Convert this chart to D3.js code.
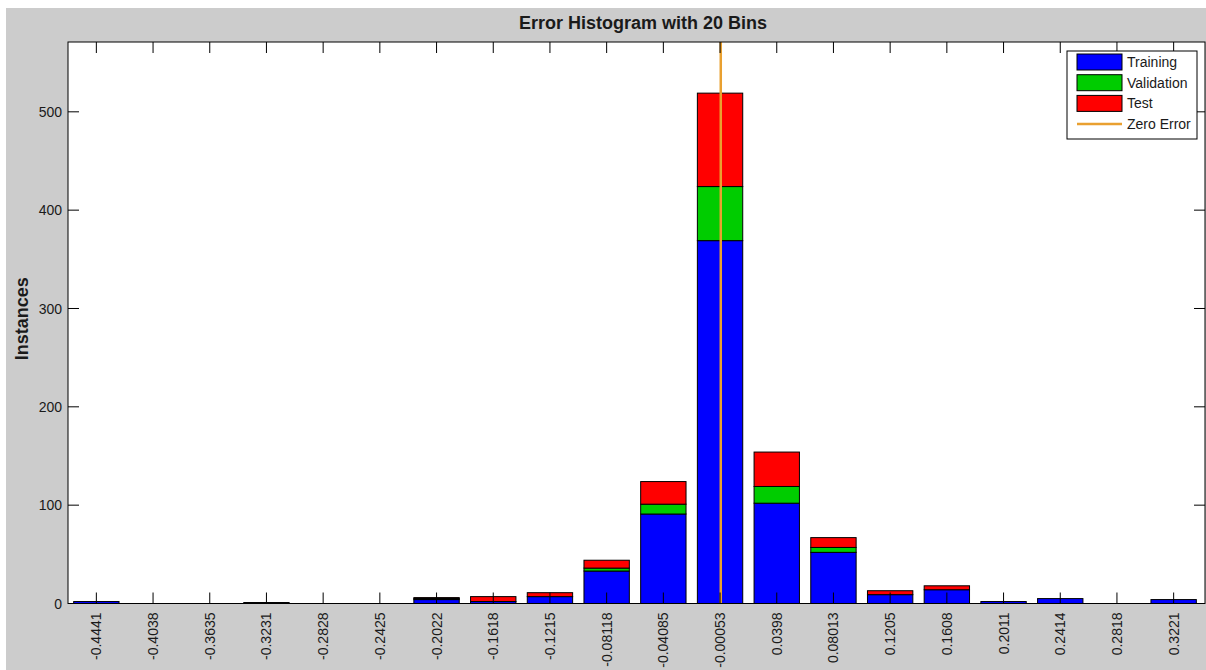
<!DOCTYPE html>
<html>
<head>
<meta charset="utf-8">
<script src="https://cdn.jsdelivr.net/npm/d3@7"></script>
<style>
  html, body { margin: 0; padding: 0; background: #ffffff; }
  svg { display: block; }
  text { font-family: "Liberation Sans", Arial, sans-serif; fill: #1a1a1a; }
</style>
</head>
<body>
<div id="chart"></div>
<script>
// bin centres, as printed under the axis
let binLabels = ["-0.4441", "-0.4038", "-0.3635", "-0.3231", "-0.2828", "-0.2425", "-0.2022",
                 "-0.1618", "-0.1215", "-0.08118", "-0.04085", "-0.00053", "0.0398", "0.08013",
                 "0.1205", "0.1608", "0.2011", "0.2414", "0.2818", "0.3221"];

let training   = [2, 0, 0, 1, 0, 0, 4, 2, 7, 33, 91, 369, 102, 52, 9, 14, 2, 5, 0, 4];
let validation = [0, 0, 0, 0, 0, 0, 1, 0, 0, 3, 10, 55, 17, 5, 0, 0, 0, 0, 0, 0];
let test       = [0, 0, 0, 0, 0, 0, 1, 5, 4, 8, 23, 95, 35, 10, 4, 4, 0, 0, 0, 0];

let yTicks = [0, 100, 200, 300, 400, 500];
let zeroError = 0;

let seriesNames = ["Training", "Validation", "Test"];
let seriesColors = ["#0000ff", "#00cc00", "#ff0000"];

let width = 1206;
let height = 670;
let plot = { left: 68, top: 42, right: 1205, bottom: 603.5 };

let svg = d3.select("#chart").append("svg")
    .attr("width", width)
    .attr("height", height);

// figure background (MATLAB grey)
svg.append("rect")
    .attr("x", 6).attr("y", 8)
    .attr("width", width - 6).attr("height", height - 8)
    .attr("fill", "#cccccc");

svg.append("rect")
    .attr("x", plot.left).attr("y", plot.top)
    .attr("width", plot.right - plot.left).attr("height", plot.bottom - plot.top)
    .attr("fill", "#ffffff");

const x = d3.scaleBand()
    .domain(binLabels)
    .range([plot.left, 1202])
    .paddingInner(0.2)
    .paddingOuter(0.1);

const y = d3.scaleLinear()
    .domain([0, 571])
    .range([plot.bottom, plot.top]);

// linear value scale through the first and last bin centres (for the zero line)
const xv = d3.scaleLinear()
    .domain([+binLabels[0], +binLabels[binLabels.length - 1]])
    .range([x(binLabels[0]) + x.bandwidth() / 2, x(binLabels[binLabels.length - 1]) + x.bandwidth() / 2]);

let rows = binLabels.map(function(b, i) {
    return { bin: b, Training: training[i], Validation: validation[i], Test: test[i] };
});

let stacked = d3.stack().keys(seriesNames)(rows);

let layers = svg.append("g")
    .selectAll("g")
    .data(stacked)
    .enter().append("g")
    .attr("fill", function(d, i) { return seriesColors[i]; });

layers.selectAll("rect")
    .data(function(d) { return d.filter(function(s) { return s[1] - s[0] > 0; }); })
    .enter().append("rect")
    .attr("x", function(d) { return x(d.data.bin); })
    .attr("width", x.bandwidth())
    .attr("y", function(d) { return y(d[1]); })
    .attr("height", function(d) { return y(d[0]) - y(d[1]); })
    .attr("stroke", "#000000")
    .attr("stroke-width", 1);

// zero error line
svg.append("line")
    .attr("x1", xv(zeroError)).attr("x2", xv(zeroError))
    .attr("y1", plot.top).attr("y2", plot.bottom)
    .attr("stroke", "#e9a030")
    .attr("stroke-width", 2.5);

// axes box and inward ticks
let axes = svg.append("g").attr("stroke", "#000000").attr("stroke-width", 1);

axes.append("rect")
    .attr("x", plot.left).attr("y", plot.top)
    .attr("width", plot.right - plot.left).attr("height", plot.bottom - plot.top)
    .attr("fill", "none");

let tickLen = 11;

axes.selectAll(".xb")
    .data(binLabels)
    .enter().append("line")
    .attr("x1", function(d) { return x(d) + x.bandwidth() / 2; })
    .attr("x2", function(d) { return x(d) + x.bandwidth() / 2; })
    .attr("y1", plot.bottom).attr("y2", plot.bottom - tickLen);

axes.selectAll(".xt")
    .data(binLabels)
    .enter().append("line")
    .attr("x1", function(d) { return x(d) + x.bandwidth() / 2; })
    .attr("x2", function(d) { return x(d) + x.bandwidth() / 2; })
    .attr("y1", plot.top).attr("y2", plot.top + tickLen);

axes.selectAll(".yl")
    .data(yTicks)
    .enter().append("line")
    .attr("x1", plot.left).attr("x2", plot.left + tickLen)
    .attr("y1", function(d) { return y(d); })
    .attr("y2", function(d) { return y(d); });

axes.selectAll(".yr")
    .data(yTicks)
    .enter().append("line")
    .attr("x1", plot.right).attr("x2", plot.right - tickLen)
    .attr("y1", function(d) { return y(d); })
    .attr("y2", function(d) { return y(d); });

// tick labels
svg.append("g")
    .selectAll("text")
    .data(yTicks)
    .enter().append("text")
    .attr("x", plot.left - 6)
    .attr("y", function(d) { return y(d); })
    .attr("dy", "0.36em")
    .attr("text-anchor", "end")
    .style("font-size", "14px")
    .text(function(d) { return d; });

svg.append("g")
    .selectAll("text")
    .data(binLabels)
    .enter().append("text")
    .attr("transform", function(d) {
        return "translate(" + (x(d) + x.bandwidth() / 2) + "," + (plot.bottom + 9) + ") rotate(-90)";
    })
    .attr("dy", "0.36em")
    .attr("text-anchor", "end")
    .style("font-size", "14px")
    .text(function(d) { return d; });

// title and y label
svg.append("text")
    .attr("x", 643).attr("y", 29)
    .attr("text-anchor", "middle")
    .style("font-size", "18px")
    .style("font-weight", "bold")
    .text("Error Histogram with 20 Bins");

svg.append("text")
    .attr("transform", "translate(28," + ((plot.top + plot.bottom) / 2 - 4) + ") rotate(-90)")
    .attr("text-anchor", "middle")
    .style("font-size", "18px")
    .style("font-weight", "bold")
    .text("Instances");

// legend
let legend = svg.append("g").attr("transform", "translate(1067,51)");

legend.append("rect")
    .attr("width", 130).attr("height", 88)
    .attr("fill", "#ffffff")
    .attr("stroke", "#000000");

let legendItems = seriesNames.concat(["Zero Error"]);

let items = legend.selectAll("g")
    .data(legendItems)
    .enter().append("g")
    .attr("transform", function(d, i) { return "translate(10," + (3 + i * 20.7) + ")"; });

items.filter(function(d, i) { return i < 3; })
    .append("rect")
    .attr("width", 45).attr("height", 16)
    .attr("fill", function(d, i) { return seriesColors[i]; })
    .attr("stroke", "#000000");

items.filter(function(d, i) { return i === 3; })
    .append("line")
    .attr("x1", 0).attr("x2", 45)
    .attr("y1", 8).attr("y2", 8)
    .attr("stroke", "#e9a030")
    .attr("stroke-width", 2.5);

items.append("text")
    .attr("x", 50).attr("y", 8)
    .attr("dy", "0.36em")
    .style("font-size", "14px")
    .text(function(d) { return d; });
</script>
</body>
</html>
